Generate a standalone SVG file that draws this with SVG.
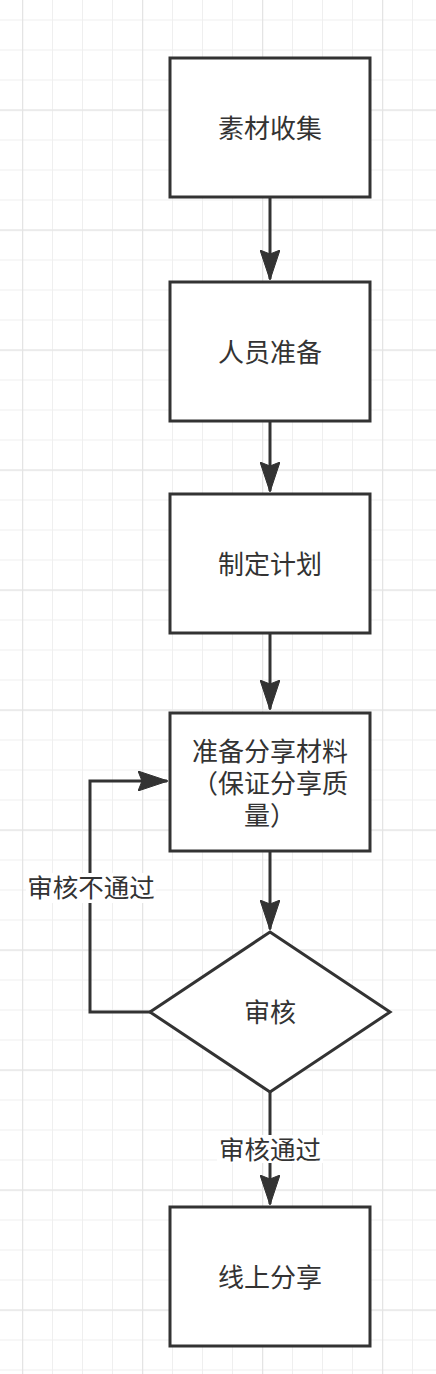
<svg xmlns="http://www.w3.org/2000/svg" width="436" height="1374" viewBox="0 0 436 1374">
<style>
.node{fill:#ffffff;stroke:#333333;stroke-width:3}
.t{font-family:"Noto Sans CJK SC","Noto Sans",sans-serif;font-size:26px;fill:#333333;text-anchor:middle}
.lbl{font-family:"Noto Sans CJK SC","Noto Sans",sans-serif;font-size:25.5px;fill:#333333;text-anchor:middle}
.edge{fill:none;stroke:#333333;stroke-width:3}
.bg{fill:#ffffff}
</style>
<defs>
<pattern id="gmin" patternUnits="userSpaceOnUse" x="22" y="19.5" width="30" height="30">
<path d="M0 0.5H30M0.5 0V30" fill="none" stroke="#efefef" stroke-width="1"/>
</pattern>
<pattern id="gmaj" patternUnits="userSpaceOnUse" x="22" y="-10.5" width="120" height="120">
<path d="M0 0.5H120M0.5 0V120" fill="none" stroke="#e4e4e4" stroke-width="1.5"/>
</pattern>
<marker id="arr" viewBox="0 0 30 20" refX="29" refY="10" markerWidth="30" markerHeight="20" markerUnits="userSpaceOnUse" orient="auto">
<path d="M0 0L30 10L0 20L4 10Z" fill="#333333" stroke="#333333" stroke-width="1"/>
</marker>
</defs>
<rect width="436" height="1374" fill="#ffffff"/>
<rect width="436" height="1374" fill="url(#gmin)"/>
<rect width="436" height="1374" fill="url(#gmaj)"/>
<g id="connectors">
<path class="edge" d="M270 197V279" marker-end="url(#arr)"/>
<path class="edge" d="M270 421V491" marker-end="url(#arr)"/>
<path class="edge" d="M270 633V709" marker-end="url(#arr)"/>
<path class="edge" d="M270 851V929" marker-end="url(#arr)"/>
<path class="edge" d="M150 1012H90V781H167" marker-end="url(#arr)"/>
<path class="edge" d="M270 1092V1204" marker-end="url(#arr)"/>
<g id="label-fail">
<rect class="bg" x="26" y="873" width="130" height="30"/>
<text class="lbl" x="91" y="897">审核不通过</text>
</g>
<g id="label-pass">
<rect class="bg" x="217" y="1135" width="106" height="28"/>
<text class="lbl" x="270" y="1159">审核通过</text>
</g>
</g>
<g id="n1">
<rect class="node" x="170" y="58" width="200" height="139"/>
<text class="t" x="270" y="138">素材收集</text>
</g>
<g id="n2">
<rect class="node" x="170" y="282" width="200" height="139"/>
<text class="t" x="270" y="362">人员准备</text>
</g>
<g id="n3">
<rect class="node" x="170" y="494" width="200" height="139"/>
<text class="t" x="270" y="574">制定计划</text>
</g>
<g id="n4">
<rect class="node" x="170" y="713" width="200" height="138"/>
<text class="t" x="270" y="761"><tspan x="270" y="761">准备分享材料</tspan><tspan x="270" y="793">（保证分享质</tspan><tspan x="270" y="825">量）</tspan></text>
</g>
<g id="n5">
<polygon class="node" points="270,932 390,1012 270,1092 150,1012"/>
<text class="t" x="270" y="1022">审核</text>
</g>
<g id="n6">
<rect class="node" x="170" y="1207" width="200" height="139"/>
<text class="t" x="270" y="1287">线上分享</text>
</g>
</svg>
